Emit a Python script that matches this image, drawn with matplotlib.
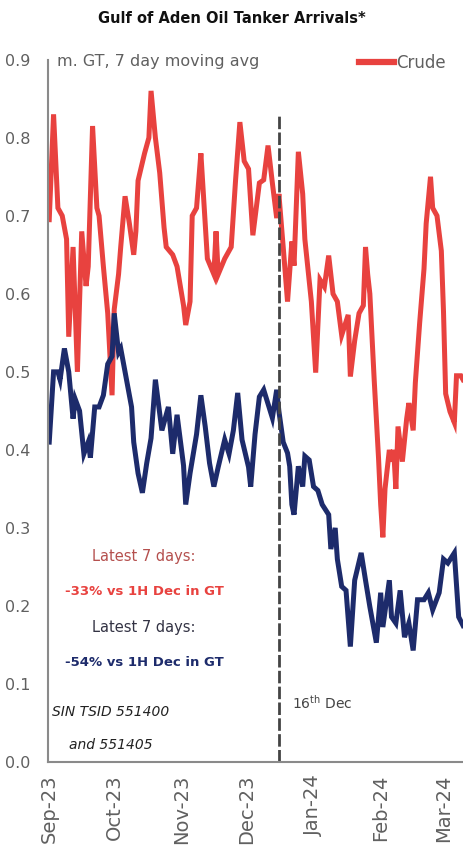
import matplotlib
matplotlib.use("Agg")
import matplotlib.pyplot as plt
import matplotlib.dates as mdates
from matplotlib.lines import Line2D
import pandas as pd

# Crude tanker arrivals, m. GT (7 day moving avg)
crude_dates = [
    "2023-09-01", "2023-09-03", "2023-09-05", "2023-09-07", "2023-09-09", "2023-09-10",
    "2023-09-12", "2023-09-14", "2023-09-16", "2023-09-18", "2023-09-19", "2023-09-21",
    "2023-09-23", "2023-09-24", "2023-09-26", "2023-09-28", "2023-09-30", "2023-10-01",
    "2023-10-03", "2023-10-04", "2023-10-06", "2023-10-08", "2023-10-10", "2023-10-11",
    "2023-10-12", "2023-10-15", "2023-10-17", "2023-10-18", "2023-10-20", "2023-10-22",
    "2023-10-24", "2023-10-25", "2023-10-28", "2023-10-30", "2023-11-02", "2023-11-03",
    "2023-11-05", "2023-11-06", "2023-11-08", "2023-11-10", "2023-11-11", "2023-11-13",
    "2023-11-16", "2023-11-17", "2023-11-18", "2023-11-21", "2023-11-24", "2023-11-26",
    "2023-11-28", "2023-11-30", "2023-12-02", "2023-12-04", "2023-12-07", "2023-12-09",
    "2023-12-11", "2023-12-13", "2023-12-15", "2023-12-16", "2023-12-18", "2023-12-20",
    "2023-12-22", "2023-12-23", "2023-12-25", "2023-12-27", "2023-12-28", "2023-12-31",
    "2024-01-02", "2024-01-04", "2024-01-06", "2024-01-08", "2024-01-10", "2024-01-12",
    "2024-01-14", "2024-01-17", "2024-01-18", "2024-01-20", "2024-01-22", "2024-01-24",
    "2024-01-25", "2024-01-26", "2024-01-27", "2024-01-29", "2024-01-31", "2024-02-01",
    "2024-02-02", "2024-02-03", "2024-02-05", "2024-02-06", "2024-02-07", "2024-02-08",
    "2024-02-09", "2024-02-11", "2024-02-13", "2024-02-14", "2024-02-16", "2024-02-17",
    "2024-02-19", "2024-02-21", "2024-02-22", "2024-02-24", "2024-02-25", "2024-02-27",
    "2024-02-29", "2024-03-01", "2024-03-02", "2024-03-04", "2024-03-06", "2024-03-07",
    "2024-03-09", "2024-03-10",
]
crude_vals = [
    0.695, 0.83, 0.71, 0.70, 0.67, 0.545,
    0.66, 0.50, 0.68, 0.61, 0.635, 0.815,
    0.71, 0.70, 0.635, 0.575, 0.47, 0.58,
    0.625, 0.66, 0.725, 0.69, 0.65, 0.68,
    0.745, 0.78, 0.80, 0.86, 0.80, 0.755,
    0.685, 0.66, 0.65, 0.635, 0.585, 0.56,
    0.59, 0.70, 0.71, 0.78, 0.735, 0.645,
    0.625, 0.68, 0.625, 0.645, 0.66, 0.745,
    0.82, 0.77, 0.76, 0.675, 0.742, 0.746,
    0.79, 0.742, 0.697, 0.728, 0.66, 0.59,
    0.667, 0.636, 0.782, 0.728, 0.67, 0.59,
    0.499, 0.618, 0.609, 0.649, 0.60, 0.59,
    0.547, 0.573, 0.494, 0.54, 0.575, 0.585,
    0.66, 0.625, 0.60, 0.49, 0.39, 0.33,
    0.288, 0.35, 0.40, 0.385, 0.40, 0.35,
    0.43, 0.385, 0.44, 0.46, 0.425, 0.486,
    0.563, 0.632, 0.69, 0.75, 0.71, 0.70,
    0.655, 0.577, 0.472, 0.449, 0.435, 0.495,
    0.495, 0.49,
]

# Product tanker arrivals, m. GT (7 day moving avg)
product_dates = [
    "2023-09-01", "2023-09-03", "2023-09-05", "2023-09-06", "2023-09-08", "2023-09-10",
    "2023-09-12", "2023-09-13", "2023-09-15", "2023-09-17", "2023-09-19", "2023-09-20",
    "2023-09-22", "2023-09-24", "2023-09-26", "2023-09-28", "2023-09-30", "2023-10-01",
    "2023-10-03", "2023-10-04", "2023-10-06", "2023-10-09", "2023-10-10", "2023-10-12",
    "2023-10-14", "2023-10-16", "2023-10-18", "2023-10-20", "2023-10-23", "2023-10-26",
    "2023-10-28", "2023-10-30", "2023-11-02", "2023-11-03", "2023-11-05", "2023-11-08",
    "2023-11-10", "2023-11-12", "2023-11-14", "2023-11-16", "2023-11-18", "2023-11-21",
    "2023-11-23", "2023-11-25", "2023-11-27", "2023-11-29", "2023-12-02", "2023-12-03",
    "2023-12-05", "2023-12-07", "2023-12-09", "2023-12-11", "2023-12-13", "2023-12-15",
    "2023-12-16", "2023-12-18", "2023-12-20", "2023-12-21", "2023-12-22", "2023-12-23",
    "2023-12-25", "2023-12-27", "2023-12-28", "2023-12-30", "2024-01-01", "2024-01-03",
    "2024-01-05", "2024-01-08", "2024-01-09", "2024-01-11", "2024-01-12", "2024-01-14",
    "2024-01-16", "2024-01-18", "2024-01-20", "2024-01-23", "2024-01-25", "2024-01-27",
    "2024-01-30", "2024-02-01", "2024-02-02", "2024-02-05", "2024-02-06", "2024-02-08",
    "2024-02-10", "2024-02-12", "2024-02-14", "2024-02-16", "2024-02-18", "2024-02-21",
    "2024-02-23", "2024-02-25", "2024-02-28", "2024-03-01", "2024-03-03", "2024-03-06",
    "2024-03-08", "2024-03-10",
]
product_vals = [
    0.41, 0.50, 0.50, 0.49, 0.53, 0.50,
    0.44, 0.465, 0.45, 0.395, 0.41, 0.39,
    0.455, 0.455, 0.47, 0.51, 0.52, 0.575,
    0.525, 0.53, 0.50, 0.455, 0.41, 0.37,
    0.345, 0.383, 0.415, 0.49, 0.425, 0.455,
    0.395, 0.445, 0.38, 0.33, 0.37, 0.42,
    0.47, 0.43, 0.383, 0.353, 0.378, 0.413,
    0.395, 0.425, 0.473, 0.413, 0.378, 0.353,
    0.42, 0.468, 0.477, 0.459, 0.441, 0.477,
    0.45, 0.41, 0.396, 0.379, 0.33, 0.317,
    0.379, 0.353, 0.392, 0.387, 0.353, 0.348,
    0.33, 0.317, 0.273, 0.30, 0.26, 0.225,
    0.22, 0.148, 0.233, 0.268, 0.233, 0.199,
    0.153, 0.217, 0.173, 0.233, 0.186, 0.178,
    0.22, 0.16, 0.178, 0.143, 0.208, 0.208,
    0.217, 0.195, 0.217, 0.26, 0.255, 0.268,
    0.186, 0.175,
]

event_date = "2023-12-16"
y_ticks = [0.0, 0.1, 0.2, 0.3, 0.4, 0.5, 0.6, 0.7, 0.8, 0.9]

RED = "#e8423f"
NAVY = "#1d2b6b"
GREY = "#606060"

crude = pd.Series(crude_vals, index=pd.to_datetime(crude_dates))
product = pd.Series(product_vals, index=pd.to_datetime(product_dates))

fig = plt.figure(figsize=(4.63, 8.65), dpi=100)
ax = fig.add_axes([0.104, 0.119, 0.896, 0.812])

ax.plot(crude.index, crude.values, color=RED, lw=3.6, solid_joinstyle="miter")
ax.plot(product.index, product.values, color=NAVY, lw=3.6, solid_joinstyle="miter")

# vertical marker for 16th Dec
ev = pd.Timestamp(event_date)
ax.plot([ev, ev], [0, 0.83], color="#444444", lw=2.0, dashes=(4.5, 1.2))
ax.text(pd.Timestamp("2023-12-22"), 0.076, r"16$^{\mathrm{th}}$ Dec",
        color="#444444", fontsize=10, va="center", ha="left")

# axes and ticks
ax.set_ylim(0, 0.9)
ax.set_xlim(pd.Timestamp("2023-08-31 12:00"), pd.Timestamp("2024-03-10"))
ax.set_yticks(y_ticks)
ax.set_yticklabels([f"{t:.1f}" for t in y_ticks])
ax.xaxis.set_major_locator(mdates.MonthLocator())
ax.xaxis.set_major_formatter(mdates.DateFormatter("%b-%y"))
ax.tick_params(axis="x", length=0, pad=9, labelsize=14, labelcolor=GREY, labelrotation=90)
ax.tick_params(axis="y", length=0, pad=13, labelsize=11.5, labelcolor=GREY)
for s in ["top", "right"]:
    ax.spines[s].set_visible(False)
for s in ["left", "bottom"]:
    ax.spines[s].set_color("#8a8a8a")
    ax.spines[s].set_linewidth(1.5)

# unit label and legend
ax.text(0.022, 0.997, "m. GT, 7 day moving avg", transform=ax.transAxes,
        fontsize=11.5, color=GREY, ha="left", va="center")
handle = Line2D([], [], color=RED, lw=4.5)
ax.legend([handle], ["Crude"], loc="center right", bbox_to_anchor=(0.975, 0.995),
          frameon=False, handlelength=2.1, handletextpad=0.15, fontsize=12,
          labelcolor=GREY, borderaxespad=0)

# commentary boxes
ax.text(0.231, 0.263 / 0.9, "Latest 7 days:", transform=ax.transAxes,
        color="#b5504e", fontsize=10.5, ha="center", va="center")
ax.text(0.231, 0.218 / 0.9, "-33% vs 1H Dec in GT", transform=ax.transAxes,
        color=RED, fontsize=9.5, fontweight="bold", ha="center", va="center")
ax.text(0.231, 0.172 / 0.9, "Latest 7 days:", transform=ax.transAxes,
        color="#333344", fontsize=10.5, ha="center", va="center")
ax.text(0.231, 0.128 / 0.9, "-54% vs 1H Dec in GT", transform=ax.transAxes,
        color=NAVY, fontsize=9.5, fontweight="bold", ha="center", va="center")
ax.text(0.15, 0.064 / 0.9, "SIN TSID 551400", transform=ax.transAxes,
        color="#222222", fontsize=10, fontstyle="italic", ha="center", va="center")
ax.text(0.15, 0.022 / 0.9, "and 551405", transform=ax.transAxes,
        color="#222222", fontsize=10, fontstyle="italic", ha="center", va="center")

fig.text(0.5, 0.979, "Gulf of Aden Oil Tanker Arrivals*", ha="center", va="center",
         fontsize=10.5, fontweight="bold", color="#111111")

fig.savefig("out.png", dpi=100)
